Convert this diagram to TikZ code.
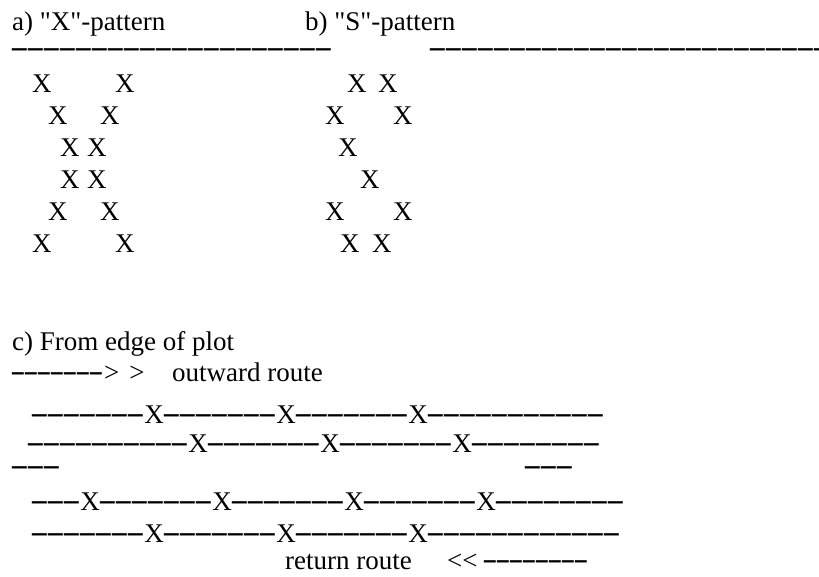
\documentclass[tikz,border=0pt]{standalone}
\usepackage{fontspec}
\setmainfont{Liberation Serif}[Ligatures=TeXOff]
\usepackage{graphicx}

% dash cells of the dashed text rules: long cells and short cells
\newcommand\onedash{\makebox[16pt]{\raisebox{-0.14em}{\scalebox{1.08}[1.7]{–}}}}
\newcommand\shortdash{\makebox[13pt]{\raisebox{-0.14em}{\scalebox{0.86}[1.7]{–}}}}
\ExplSyntaxOn
\NewDocumentCommand\dashrun{m}{\prg_replicate:nn{#1}{\onedash}}
\NewDocumentCommand\shortrun{m}{\prg_replicate:nn{#1}{\shortdash}}
\ExplSyntaxOff
\newcommand\markX{\makebox[20pt]{X}}

\begin{document}
\begin{tikzpicture}[x=1pt,y=-1pt,
  txt/.style={inner sep=0pt, anchor=base west, font=\fontsize{27}{32}\selectfont}]
\useasboundingbox (0,0) rectangle (819,577);

% headings of the two upper panels
\node[txt] (ha) at (12,31) {a) "X"-pattern};
\node[txt] (hb) at (305,31) {b) "S"-pattern};
\node[txt] (rulea) at (12,57) {\dashrun{20}};
\node[txt] (ruleb) at (430,57) {\dashrun{25}};

% a) X-pattern
\node[txt] (xa1) at (32,93)  {X}; \node[txt] (xb1) at (115,93)  {X};
\node[txt] (xa2) at (48,125) {X}; \node[txt] (xb2) at (100,125) {X};
\node[txt] (xa3) at (60,157) {X}; \node[txt] (xb3) at (87,157)  {X};
\node[txt] (xa4) at (60,189) {X}; \node[txt] (xb4) at (87,189)  {X};
\node[txt] (xa5) at (48,221) {X}; \node[txt] (xb5) at (100,221) {X};
\node[txt] (xa6) at (32,253) {X}; \node[txt] (xb6) at (115,253) {X};

% b) S-pattern
\node[txt] (sa1) at (347,93)  {X}; \node[txt] (sb1) at (378,93)  {X};
\node[txt] (sa2) at (325,125) {X}; \node[txt] (sb2) at (393,125) {X};
\node[txt] (sa3) at (338,157) {X};
\node[txt] (sa4) at (360,189) {X};
\node[txt] (sa5) at (325,221) {X}; \node[txt] (sb5) at (393,221) {X};
\node[txt] (sa6) at (340,253) {X}; \node[txt] (sb6) at (372,253) {X};

% c) routes from the edge of the plot
\node[txt] (hc) at (12,350) {c) From edge of plot};
\node[txt] (outarrow) at (12,381) {\shortrun{7}\kern1pt>\kern10pt>};
\node[txt] (outlabel) at (172,381) {outward route};
\node[txt] (row1) at (32,423) {\dashrun{7}\markX\dashrun{7}\markX\dashrun{7}\markX\dashrun{11}};
\node[txt] (row2) at (28,452) {\dashrun{10}\markX\dashrun{7}\markX\dashrun{7}\markX\dashrun{8}};
\node[txt] (edgel) at (12,475) {\dashrun{3}};
\node[txt] (edger) at (525,475) {\dashrun{3}};
\node[txt] (row3) at (32,510) {\dashrun{3}\markX\dashrun{7}\markX\dashrun{7}\markX\dashrun{7}\markX\dashrun{8}};
\node[txt] (row4) at (32,542) {\dashrun{7}\markX\dashrun{7}\markX\dashrun{7}\markX\dashrun{12}};
\node[txt] (retlabel) at (285,569) {return route};
\node[txt] (retarrow) at (447,569) {<<\kern6pt\shortrun{8}};
\end{tikzpicture}
\end{document}
